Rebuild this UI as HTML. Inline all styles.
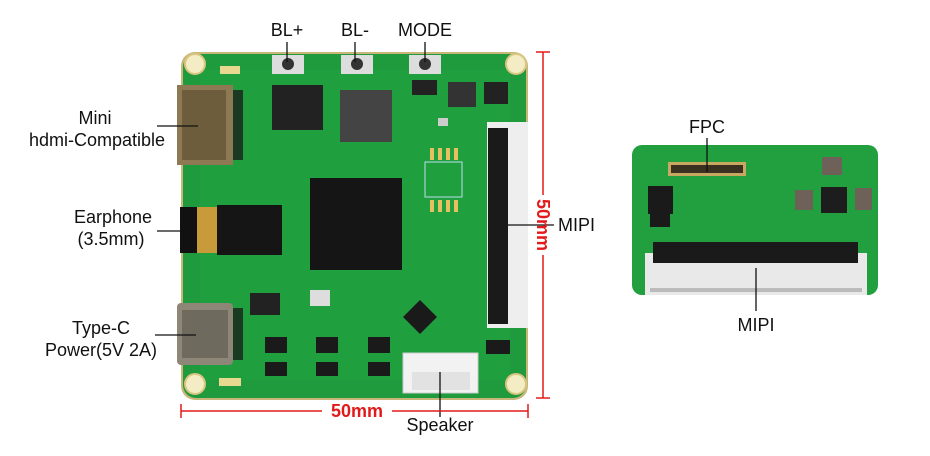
<!DOCTYPE html>
<html><head><meta charset="utf-8"><style>
body{margin:0;background:#fff;width:930px;height:456px;overflow:hidden}
svg{display:block}
text{font-family:"Liberation Sans",Arial,sans-serif;font-size:18px;fill:#111}
</style></head><body>
<svg width="930" height="456" viewBox="0 0 930 456">
<rect x="181" y="52" width="347" height="348" rx="14" fill="#c9b77a"/>
<rect x="183" y="54" width="343" height="344" rx="13" fill="#1f9a3c"/>
<rect x="200" y="70" width="310" height="310" fill="#22a442" opacity="0.5"/>
<g fill="#f4ecc4" stroke="#d8c680" stroke-width="2">
<circle cx="195" cy="64" r="10"/><circle cx="516" cy="64" r="10"/>
<circle cx="195" cy="384" r="10"/><circle cx="516" cy="384" r="10"/></g>
<g><rect x="272" y="55" width="32" height="19" fill="#ddd"/><circle cx="288" cy="64" r="6" fill="#333"/>
<rect x="341" y="55" width="32" height="19" fill="#ddd"/><circle cx="357" cy="64" r="6" fill="#333"/>
<rect x="409" y="55" width="32" height="19" fill="#ddd"/><circle cx="425" cy="64" r="6" fill="#333"/></g>
<rect x="220" y="66" width="20" height="8" fill="#e8d890"/>
<rect x="219" y="378" width="22" height="8" fill="#e8d890"/>
<rect x="177" y="85" width="56" height="80" fill="#8d7a55"/>
<rect x="182" y="90" width="44" height="70" fill="#6e5d3c"/>
<rect x="233" y="90" width="10" height="70" fill="#1a3a22"/>
<rect x="272" y="85" width="51" height="45" fill="#222"/>
<rect x="340" y="90" width="52" height="52" fill="#444"/>
<rect x="310" y="178" width="92" height="92" fill="#151515"/>
<rect x="412" y="80" width="25" height="15" fill="#222"/>
<rect x="448" y="82" width="28" height="25" fill="#333"/>
<rect x="484" y="82" width="24" height="22" fill="#222"/>
<rect x="438" y="118" width="10" height="8" fill="#ccc"/>
<rect x="425" y="162" width="37" height="35" fill="none" stroke="#bde" stroke-width="1"/>
<g fill="#e6c060"><rect x="430" y="148" width="4" height="12"/><rect x="438" y="148" width="4" height="12"/><rect x="446" y="148" width="4" height="12"/><rect x="454" y="148" width="4" height="12"/>
<rect x="430" y="200" width="4" height="12"/><rect x="438" y="200" width="4" height="12"/><rect x="446" y="200" width="4" height="12"/><rect x="454" y="200" width="4" height="12"/></g>
<rect x="408" y="305" width="24" height="24" fill="#1a1a1a" transform="rotate(45 420 317)"/>
<rect x="250" y="293" width="30" height="22" fill="#222"/>
<rect x="310" y="290" width="20" height="16" fill="#ddd"/>
<g fill="#1a1a1a"><rect x="265" y="337" width="22" height="16"/><rect x="316" y="337" width="22" height="16"/><rect x="368" y="337" width="22" height="16"/>
<rect x="265" y="362" width="22" height="14"/><rect x="316" y="362" width="22" height="14"/><rect x="368" y="362" width="22" height="14"/>
<rect x="486" y="340" width="24" height="14"/></g>
<rect x="180" y="207" width="20" height="46" fill="#111"/>
<rect x="197" y="207" width="20" height="46" fill="#c79a3a"/>
<rect x="217" y="205" width="65" height="50" fill="#151515"/>
<rect x="177" y="303" width="56" height="62" rx="4" fill="#8e8676"/>
<rect x="182" y="310" width="46" height="48" fill="#6f6a5e"/>
<rect x="233" y="308" width="10" height="52" fill="#1a3a22"/>
<rect x="487" y="122" width="41" height="206" fill="#eee"/>
<rect x="488" y="128" width="20" height="196" fill="#1a1a1a"/>
<rect x="403" y="353" width="75" height="40" fill="#f2f2f2" stroke="#ccc"/>
<rect x="412" y="372" width="58" height="18" fill="#e2e2e2"/>
<text x="287" y="36" text-anchor="middle">BL+</text>
<text x="355" y="36" text-anchor="middle">BL-</text>
<text x="425" y="36" text-anchor="middle">MODE</text>
<g stroke="#111" stroke-width="1.3">
<line x1="287" y1="42" x2="287" y2="62"/><line x1="355" y1="42" x2="355" y2="62"/><line x1="425" y1="42" x2="425" y2="62"/>
<line x1="157" y1="126" x2="198" y2="126"/>
<line x1="157" y1="231" x2="190" y2="231"/>
<line x1="155" y1="335" x2="196" y2="335"/>
<line x1="508" y1="225" x2="554" y2="225"/>
<line x1="440" y1="372" x2="440" y2="417"/>
</g>
<text x="95" y="124" text-anchor="middle">Mini</text>
<text x="97" y="146" text-anchor="middle">hdmi-Compatible</text>
<text x="113" y="223" text-anchor="middle">Earphone</text>
<text x="111" y="245" text-anchor="middle">(3.5mm)</text>
<text x="101" y="334" text-anchor="middle">Type-C</text>
<text x="101" y="356" text-anchor="middle">Power(5V 2A)</text>
<text x="558" y="231">MIPI</text>
<text x="440" y="431" text-anchor="middle">Speaker</text>
<g stroke="#e21a1a" stroke-width="1.5">
<line x1="543" y1="52" x2="543" y2="195"/><line x1="543" y1="255" x2="543" y2="398"/>
<line x1="536" y1="52" x2="550" y2="52"/><line x1="536" y1="398" x2="550" y2="398"/>
<line x1="181" y1="411" x2="322" y2="411"/><line x1="392" y1="411" x2="528" y2="411"/>
<line x1="181" y1="404" x2="181" y2="418"/><line x1="528" y1="404" x2="528" y2="418"/>
</g>
<text x="357" y="417" text-anchor="middle" style="fill:#e21a1a;font-weight:bold">50mm</text>
<text transform="translate(537 225) rotate(90)" text-anchor="middle" style="fill:#e21a1a;font-weight:bold">50mm</text>
<rect x="632" y="145" width="246" height="150" rx="10" fill="#22a040"/>
<rect x="668" y="162" width="78" height="14" fill="#c8a860"/>
<rect x="671" y="165" width="72" height="8" fill="#3a3020"/>
<rect x="648" y="186" width="25" height="28" fill="#1a1a1a"/>
<rect x="650" y="207" width="20" height="20" fill="#1a1a1a"/>
<rect x="822" y="157" width="20" height="18" fill="#6e6258"/>
<rect x="795" y="190" width="18" height="20" fill="#6e6258"/>
<rect x="855" y="188" width="17" height="22" fill="#6e6258"/>
<rect x="821" y="187" width="26" height="26" fill="#1d1d1d"/>
<rect x="645" y="253" width="222" height="42" fill="#e9e9e9"/>
<rect x="653" y="242" width="205" height="21" fill="#1a1a1a"/>
<rect x="650" y="288" width="212" height="4" fill="#bbb"/>
<g stroke="#111" stroke-width="1.3"><line x1="707" y1="138" x2="707" y2="172"/><line x1="756" y1="268" x2="756" y2="311"/></g>
<text x="707" y="133" text-anchor="middle">FPC</text>
<text x="756" y="331" text-anchor="middle">MIPI</text>
</svg>
</body></html>
